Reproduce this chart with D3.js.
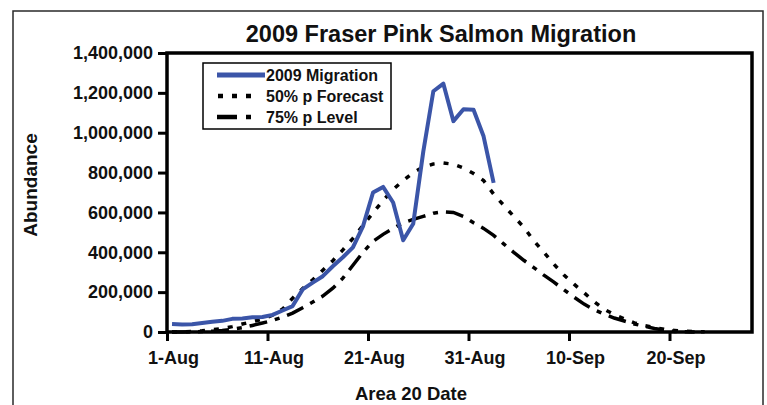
<!DOCTYPE html>
<html><head><meta charset="utf-8">
<script src="https://cdn.jsdelivr.net/npm/d3@7"></script>
<style>
body{margin:0;background:#fff;}
text{font-family:"Liberation Sans",Arial,sans-serif;font-weight:bold;fill:#111;}
</style>
</head><body>
<svg id="chart" width="767" height="405"></svg>
<script>
const dates = ["2009-08-01","2009-08-02","2009-08-03","2009-08-04","2009-08-05","2009-08-06","2009-08-07","2009-08-08","2009-08-09","2009-08-10",
"2009-08-11","2009-08-12","2009-08-13","2009-08-14","2009-08-15","2009-08-16","2009-08-17","2009-08-18","2009-08-19","2009-08-20",
"2009-08-21","2009-08-22","2009-08-23","2009-08-24","2009-08-25","2009-08-26","2009-08-27","2009-08-28","2009-08-29","2009-08-30",
"2009-08-31","2009-09-01","2009-09-02","2009-09-03","2009-09-04","2009-09-05","2009-09-06","2009-09-07","2009-09-08","2009-09-09",
"2009-09-10","2009-09-11","2009-09-12","2009-09-13","2009-09-14","2009-09-15","2009-09-16","2009-09-17","2009-09-18","2009-09-19",
"2009-09-20","2009-09-21","2009-09-22","2009-09-23"];
const migration = [40000,38000,39000,45000,51000,56000,66000,68000,74000,75000,
86000,108000,130000,214000,248000,280000,330000,375000,425000,530000,
700000,728000,650000,460000,543000,905000,1208000,1246000,1058000,1118000,
1115000,982000,748000];
const forecast50 = [0,1000,3000,6000,11000,17000,27000,40000,52000,64000,
84000,115000,170000,218000,262000,310000,358000,412000,470000,535000,
598000,660000,715000,760000,800000,828000,843000,848000,842000,823000,
795000,760000,692000,636000,580000,526000,458000,400000,340000,286000,
240000,197000,152000,114000,88000,66000,46000,32000,22000,13000,
8000,4000,2000,1000];
const level75 = [0,0,1000,2000,4000,8000,14000,22000,33000,45000,
58000,75000,95000,122000,150000,180000,220000,270000,335000,400000,
455000,490000,520000,548000,565000,580000,596000,603000,600000,580000,
548000,520000,485000,442000,400000,360000,323000,285000,250000,212000,
175000,140000,112000,90000,70000,55000,40000,29000,18000,9000,
3000,1000,0];
const tickDates = ["2009-08-01","2009-08-11","2009-08-21","2009-08-31","2009-09-10","2009-09-20"];
const yTicks = [0,200000,400000,600000,800000,1000000,1200000,1400000];
const legendLabels = ["2009 Migration","50% p Forecast","75% p Level"];
const titleText = "2009 Fraser Pink Salmon Migration";
const xTitle = "Area 20 Date";
const yTitle = "Abundance";

const parse = d3.utcParse("%Y-%m-%d");
const svg = d3.select("#chart");
const L = 167, R = 752, T = 53, B = 332;

// outer border
svg.append("rect").attr("x",13).attr("y",11).attr("width",750).attr("height",420)
  .attr("fill","none").attr("stroke","#2a2a2a").attr("stroke-width",1.5);

const x = d3.scaleUtc()
  .domain([parse("2009-08-01"), d3.utcHour.offset(parse("2009-09-28"), 5)])
  .range([L, R]);
const y = d3.scaleLinear().domain([0,1400000]).range([B, T]);

const mid = d => d3.utcHour.offset(parse(d), 12);

// axes
const xAxis = svg.append("g").attr("transform",`translate(0,${B})`)
  .call(d3.axisBottom(x).tickValues(tickDates.map(parse)).tickFormat(d3.utcFormat("%-d-%b")).tickSize(9).tickPadding(10));
const yAxis = svg.append("g").attr("transform",`translate(${L},0)`)
  .call(d3.axisLeft(y).tickValues(yTicks).tickFormat(d3.format(",")).tickSize(9).tickPadding(5));
[xAxis,yAxis].forEach(g=>{
  g.select(".domain").remove();
  g.selectAll(".tick line").attr("stroke","#000").attr("stroke-width",3);
  g.selectAll(".tick text").attr("fill","#111").style("font-size","18px");
});
xAxis.selectAll(".tick text").attr("dx",6);

// frame
svg.append("rect").attr("x",L).attr("y",T).attr("width",R-L).attr("height",B-T)
  .attr("fill","none").attr("stroke","#000").attr("stroke-width",3.5);

const line = d3.line().x(d=>x(mid(d[0]))).y(d=>y(d[1]));
const g = svg.append("g");
g.append("path").datum(level75.map((v,i)=>[dates[i],v])).attr("d",line)
  .attr("fill","none").attr("stroke","#000").attr("stroke-width",3.5).attr("stroke-dasharray","18,8,5,8");
g.append("path").datum(forecast50.map((v,i)=>[dates[i],v])).attr("d",line)
  .attr("fill","none").attr("stroke","#000").attr("stroke-width",3.5).attr("stroke-dasharray","5,9");
g.append("path").datum(migration.map((v,i)=>[dates[i],v])).attr("d",line)
  .attr("fill","none").attr("stroke","#3b55a8").attr("stroke-width",4).attr("stroke-linejoin","round");

// legend
const lg = svg.append("g");
lg.append("rect").attr("x",203).attr("y",63).attr("width",188).attr("height",66)
  .attr("fill","#fff").attr("stroke","#000").attr("stroke-width",1.5);
const rows = [75,96,117];
const styles = [
  {stroke:"#3b55a8",w:5,dash:null,x1:217,x2:265},
  {stroke:"#000",w:4.5,dash:"5,9",x1:218,x2:252},
  {stroke:"#000",w:4.5,dash:"20,9,5,9",x1:217,x2:252}
];
legendLabels.forEach((lab,i)=>{
  const s = styles[i];
  lg.append("line").attr("x1",s.x1).attr("x2",s.x2).attr("y1",rows[i]).attr("y2",rows[i])
    .attr("stroke",s.stroke).attr("stroke-width",s.w).attr("stroke-dasharray",s.dash);
  lg.append("text").attr("x",266).attr("y",rows[i]+6).style("font-size","16px").text(lab);
});

// titles
svg.append("text").attr("x",441).attr("y",42).attr("text-anchor","middle").style("font-size","23.5px").text(titleText);
svg.append("text").attr("x",411).attr("y",400).attr("text-anchor","middle").style("font-size","18.5px").text(xTitle);
svg.append("text").attr("transform","translate(37,185) rotate(-90)").attr("text-anchor","middle").style("font-size","19px").text(yTitle);
</script>
</body></html>
